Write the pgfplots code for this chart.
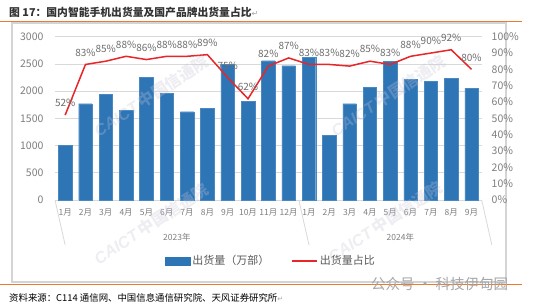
\documentclass[border=0pt]{standalone}
\usepackage{fontspec}
\setmainfont{Noto Sans CJK SC}
\newfontfamily\symfont{DejaVu Sans}
\newfontfamily\lsans{Liberation Sans}
\usepackage{pgfplots}
\pgfplotsset{compat=1.18}
\definecolor{barblue}{HTML}{2E75B6}
\definecolor{baredge}{HTML}{4A88C2}
\definecolor{linered}{HTML}{E8262A}
\definecolor{gridgray}{HTML}{D9D9D9}
\definecolor{framegray}{HTML}{D4D4D4}
\definecolor{ticklab}{HTML}{7F7F7F}
\definecolor{datalab}{HTML}{6E6E6E}
\definecolor{legtext}{HTML}{595959}
\definecolor{titlegray}{HTML}{333333}
\definecolor{orangeline}{HTML}{EB7A2C}
\definecolor{wm}{HTML}{C4C4D6}
\definecolor{wxgray}{HTML}{A6A6A6}
\pgfplotsset{/pgf/number format/assume math mode=true, /pgf/number format/1000 sep={}}
\begin{document}
\begin{tikzpicture}[x=1pt,y=1pt]
\useasboundingbox (0,0) rectangle (538,-306);
\fill[white] (0,0) rectangle (538,-306);
% frame and rules
\draw[framegray, line width=1.2pt] (12,-23) rectangle (506,-282);
\draw[orangeline, line width=0.9pt] (0,-21) -- (522,-21);
\node[anchor=west, inner sep=0, font=\bfseries\fontsize{10.8}{12}\selectfont, text=titlegray] at (9,-12)
  {图 17：国内智能手机出货量及国产品牌出货量占比{\symfont\mdseries\fontsize{8}{9}\selectfont\color{wxgray}↵}};

\begin{axis}[
  at={(55pt,-200pt)}, anchor=south west,
  scale only axis, width=426.7pt, height=163.3pt,
  xmin=-0.5, xmax=20.5, ymin=0, ymax=3000,
  ytick={0,500,...,3000},
  xtick={0,...,20},
  xticklabels={1月,2月,3月,4月,5月,6月,7月,8月,9月,10月,11月,12月,1月,2月,3月,4月,5月,6月,7月,8月,9月},
  ymajorgrids, grid style={draw=gridgray, line width=0.7pt},
  axis line style={draw=none},
  major tick style={draw=none},
  yticklabel style={font=\fontsize{10.5}{12}\selectfont, text=ticklab, xshift=-8pt},
  xticklabel style={font=\fontsize{8.5}{10}\selectfont, text=ticklab, yshift=-5pt},
  clip=false,
  legend style={at={(0.506,-0.3735)}, anchor=center, draw=none, fill=none,
    font=\fontsize{11}{12}\selectfont, text=legtext, inner sep=0pt,
    /tikz/every even column/.append style={column sep=20pt}},
  legend columns=2,
]
\addplot[ybar, bar width=13.5pt, fill=barblue, draw=baredge, line width=0.4pt,
  legend image code/.code={\fill[barblue] (0pt,-4pt) rectangle (25pt,4pt);}]
  coordinates {(0,1000) (1,1769) (2,1942) (3,1641) (4,2254) (5,1960) (6,1622) (7,1684) (8,2498) (9,1806) (10,2559) (11,2467) (12,2627) (13,1194) (14,1769) (15,2070) (16,2541) (17,2217) (18,2186) (19,2235) (20,2052)};
\addlegendentry{出货量（万部）}
\addlegendimage{legend image code/.code={\draw[linered, line width=1.5pt] (0pt,0pt) -- (25pt,0pt);}}
\addlegendentry{出货量占比}
\draw[gridgray, line width=0.8pt] (axis cs:-0.5,0) -- ++(0,-45pt);
\draw[gridgray, line width=0.8pt] (axis cs:11.5,0) -- ++(0,-45pt);
\draw[gridgray, line width=0.8pt] (axis cs:20.5,0) -- ++(0,-45pt);
\node[font=\fontsize{8.5}{10}\selectfont, text=ticklab] at (axis cs:5.5,0) [yshift=-37.5pt] {2023年};
\node[font=\fontsize{8.5}{10}\selectfont, text=ticklab] at (axis cs:16.5,0) [yshift=-37.5pt] {2024年};
\end{axis}

\begin{axis}[
  at={(55pt,-200pt)}, anchor=south west,
  scale only axis, width=426.7pt, height=163.3pt,
  xmin=-0.5, xmax=20.5, ymin=0, ymax=100,
  axis y line*=right, axis x line=none,
  ytick={0,10,...,100},
  yticklabel={\pgfmathprintnumber{\tick}\%},
  axis line style={draw=none},
  major tick style={draw=none},
  yticklabel style={font=\fontsize{10.5}{12}\selectfont, text=ticklab, xshift=6.5pt},
  clip=false,
]
\addplot[linered, line width=1.5pt, mark=none,
  point meta=y,
  nodes near coords={\pgfmathprintnumber[fixed,precision=0]{\pgfplotspointmeta}\%},
  every node near coord/.append style={font=\fontsize{10}{11}\selectfont, text=datalab, anchor=south, yshift=4pt}]
  coordinates {(0,52) (1,83) (2,85) (3,88) (4,86) (5,88) (6,88) (7,89) (8,75) (9,62) (10,82) (11,87) (12,83) (13,83) (14,82) (15,85) (16,83) (17,88) (18,90) (19,92) (20,80)};
\end{axis}

% watermarks
\begin{scope}[opacity=0.3]
\foreach \p in {(151,-96),(151,-224),(388,-96),(385,-222)}{
  \node[rotate=33, text=wm, font=\bfseries\fontsize{16}{16}\selectfont] at \p {{\lsans\bfseries\itshape CAICT} 中国信通院};
}
\end{scope}
\draw[orangeline, line width=0.9pt] (0,-284.5) -- (522,-284.5);
\node[anchor=west, inner sep=0, text=wxgray, font=\fontsize{14.5}{16}\selectfont] at (371,-284) {公众号 · 科技伊甸园};
\node[anchor=west, inner sep=0, text=black, font=\fontsize{9.4}{11}\selectfont] at (9,-298)
  {资料来源：C114 通信网、中国信息通信研究院、天风证券研究所{\symfont\fontsize{7}{8}\selectfont\color{wxgray}↵}};
\end{tikzpicture}
\end{document}
